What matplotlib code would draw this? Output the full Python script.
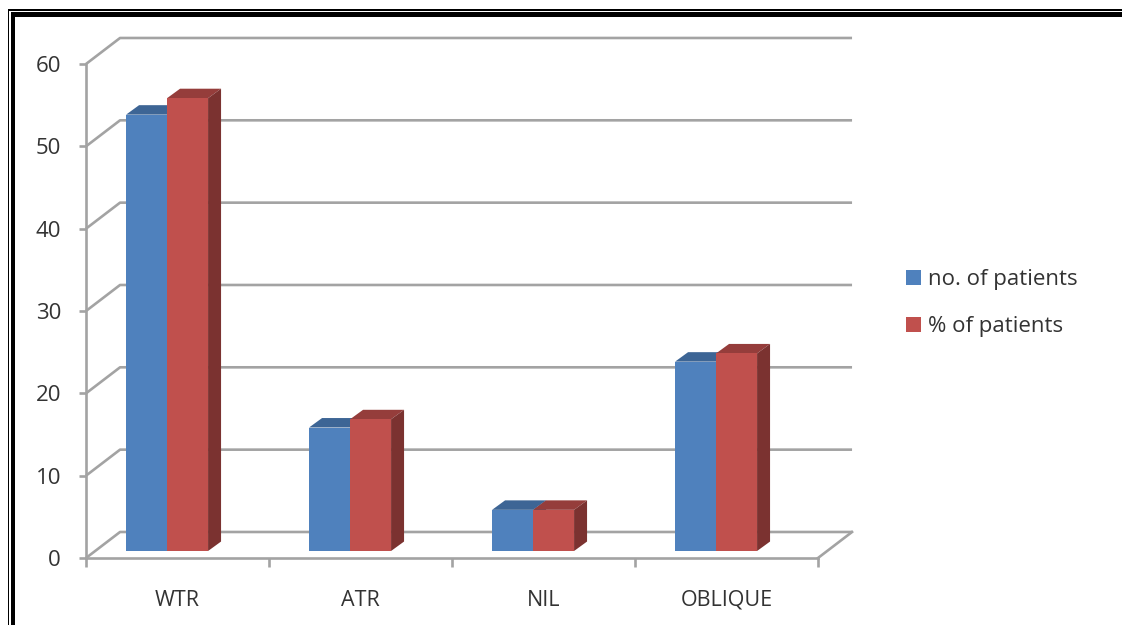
import matplotlib
matplotlib.use("Agg")
import matplotlib.pyplot as plt
from matplotlib.patches import Polygon, Rectangle

plt.rcParams['font.family'] = ['Open Sans', 'DejaVu Sans']

categories = ["WTR", "ATR", "NIL", "OBLIQUE"]
no_patients = [53, 15, 5, 23]
pct_patients = [55, 16, 5, 24]
series_names = ["no. of patients", "% of patients"]
y_ticks = [0, 10, 20, 30, 40, 50, 60]

W, H = 1122, 625
GRID = '#a3a3a3'
TEXT = '#333333'

fig = plt.figure(figsize=(W / 100, H / 100), dpi=100, facecolor='white')
# front plane of the fake 3d box, pixel positions
ax = fig.add_axes([86 / W, 1 - 558 / H, (818 - 86) / W, (558 - 64) / H])
ax.set_xlim(0, 4)
ax.set_ylim(0, 60)
ax.patch.set_visible(False)

# depth of the box and of the bars, in data units
box_dx, box_dy = 0.186, 3.16
bar_dx, bar_dy = 0.071, 1.15
bar_w = 0.224
bar_base = 0.85
first_center = 0.443

# back wall + floor lines
for v in y_ticks:
    ax.plot([0, box_dx, 4 + box_dx], [v, v + box_dy, v + box_dy],
            color=GRID, lw=1.9, clip_on=False, zorder=1, solid_capstyle='butt')
ax.plot([4, 4 + box_dx], [0, box_dy], color=GRID, lw=1.9, clip_on=False, zorder=1)


def draw_bars(xs, vals, face, top, side, label, z):
    ax.bar(xs, vals, width=bar_w, bottom=bar_base, align='edge', color=face,
           edgecolor='none', label=label, zorder=z + 1, clip_on=False)
    for x, v in zip(xs, vals):
        t = bar_base + v
        ax.add_patch(Polygon([(x, t), (x + bar_w, t), (x + bar_w + bar_dx, t + bar_dy), (x + bar_dx, t + bar_dy)],
                             closed=True, fc=top, ec='none', zorder=z, clip_on=False))
        ax.add_patch(Polygon([(x + bar_w, bar_base), (x + bar_w + bar_dx, bar_base + bar_dy),
                              (x + bar_w + bar_dx, t + bar_dy), (x + bar_w, t)],
                             closed=True, fc=side, ec='none', zorder=z, clip_on=False))


pos = range(len(categories))
draw_bars([i + first_center - bar_w for i in pos], no_patients, '#4f81bd', '#3d6595', '#385d8a', series_names[0], 3)
draw_bars([i + first_center for i in pos], pct_patients, '#c0504d', '#953d3b', '#7b3230', series_names[1], 5)

for s in ['top', 'right']:
    ax.spines[s].set_visible(False)
for s in ['left', 'bottom']:
    ax.spines[s].set_color(GRID)
    ax.spines[s].set_linewidth(1.9)

ax.set_yticks(y_ticks)
ax.set_xticks(range(5))
ax.set_xticklabels([])
ax.set_xticks([i + 0.5 for i in pos], categories, minor=True)
ax.tick_params(axis='y', length=5, width=1.9, color=GRID, labelsize=16, labelcolor=TEXT, pad=13)
ax.tick_params(axis='x', which='major', length=6.5, width=1.9, color=GRID)
ax.tick_params(axis='x', which='minor', length=0, labelsize=15.5, labelcolor=TEXT, pad=23)

fig.legend(loc='center left', bbox_to_anchor=(906 / W, 1 - 303 / H), frameon=False, fontsize=16,
           labelcolor=TEXT, handlelength=0.68, handleheight=0.68, handletextpad=0.32,
           labelspacing=1.17, borderpad=0, borderaxespad=0)

# double border on top and left of the page, runs off the right and bottom edge
frame = [
    (7.5, 9, W, 2), (7.5, 9, 1.8, H),
    (11, 12.3, W, 4.3), (11, 12.3, 3.8, H),
]
for x, y, w, h in frame:
    fig.add_artist(Rectangle((x / W, 1 - (y + h) / H), w / W, h / H, transform=fig.transFigure,
                             fc='black', ec='none'))

fig.savefig('out.png', dpi=100)
